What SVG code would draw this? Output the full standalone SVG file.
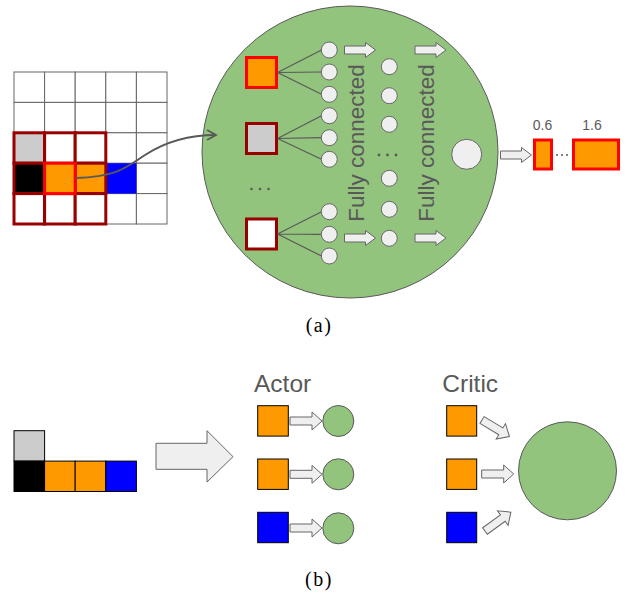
<svg xmlns="http://www.w3.org/2000/svg" width="629" height="595" viewBox="0 0 629 595">
<defs>
<style>
.g{fill:#fff;stroke:#666;stroke-width:1}
.dr{fill:none;stroke:#990000;stroke-width:3}
.red{stroke:#ff0000;stroke-width:3}
.or{fill:#ff9900}
.bl{fill:#0000ff}
.gy{fill:#cccccc}
.bk{fill:#000}
.cell{stroke:#000;stroke-width:1}
.n{fill:#efefef;stroke:#666;stroke-width:1}
.gc{fill:#93c47d;stroke:#595959;stroke-width:1}
.ar{fill:#efefef;stroke:#666;stroke-width:1}
.ln{stroke:#595959;stroke-width:1.2;fill:none}
.fc{font-family:'Liberation Sans',Arial,sans-serif;font-size:22.5px;fill:#595959}
.lab{font-family:'Liberation Sans',Arial,sans-serif;fill:#595959}
.cap{font-family:'Liberation Serif','Times New Roman',serif;font-size:20px;letter-spacing:1.5px;fill:#000}
</style>
<path id="sa" d="M0,-4 H21 V-7.5 L31,0 L21,7.5 V4 H0 Z"/>
<path id="sb" d="M0,-4 H22 V-9 L32,0 L22,9 V4 H0 Z"/>
<marker id="mh" markerWidth="12" markerHeight="12" refX="10" refY="6" orient="auto" markerUnits="userSpaceOnUse">
<path d="M1,1 L10,6 L1,11" fill="none" stroke="#595959" stroke-width="1.8"/>
</marker>
</defs>

<g id="grid">
<rect class="g" x="14" y="72" width="30.6" height="30.4"/>
<rect class="g" x="44.6" y="72" width="30.6" height="30.4"/>
<rect class="g" x="75.2" y="72" width="30.6" height="30.4"/>
<rect class="g" x="105.8" y="72" width="30.6" height="30.4"/>
<rect class="g" x="136.4" y="72" width="30.6" height="30.4"/>
<rect class="g" x="14" y="102.4" width="30.6" height="30.4"/>
<rect class="g" x="44.6" y="102.4" width="30.6" height="30.4"/>
<rect class="g" x="75.2" y="102.4" width="30.6" height="30.4"/>
<rect class="g" x="105.8" y="102.4" width="30.6" height="30.4"/>
<rect class="g" x="136.4" y="102.4" width="30.6" height="30.4"/>
<rect class="g" x="105.8" y="132.8" width="30.6" height="30.4"/>
<rect class="g" x="136.4" y="132.8" width="30.6" height="30.4"/>
<rect class="g" x="136.4" y="163.2" width="30.6" height="30.4"/>
<rect class="g" x="105.8" y="193.6" width="30.6" height="30.4"/>
<rect class="g" x="136.4" y="193.6" width="30.6" height="30.4"/>
<rect x="105.8" y="163.2" width="30.6" height="30.4" fill="#0000ff"/>
<rect class="dr" x="14" y="132.8" width="30.6" height="30.4" style="fill:#cccccc"/>
<rect class="dr" x="44.6" y="132.8" width="30.6" height="30.4" style="fill:#fff"/>
<rect class="dr" x="75.2" y="132.8" width="30.6" height="30.4" style="fill:#fff"/>
<rect class="dr" x="14" y="163.2" width="30.6" height="30.4" style="fill:#000"/>
<rect class="dr" x="75.2" y="163.2" width="30.6" height="30.4" style="fill:#ff9900"/>
<rect class="dr" x="14" y="193.6" width="30.6" height="30.4" style="fill:#fff"/>
<rect class="dr" x="44.6" y="193.6" width="30.6" height="30.4" style="fill:#fff"/>
<rect class="dr" x="75.2" y="193.6" width="30.6" height="30.4" style="fill:#fff"/>
<rect class="or red" x="44.6" y="163.2" width="30.6" height="30.4"/>
</g>

<g id="network">
<ellipse class="gc" cx="350" cy="152" rx="148" ry="146"/>
<rect class="or red" x="246.5" y="57.5" width="30" height="30"/>
<rect class="gy" x="246.5" y="123.5" width="30" height="30" stroke="#990000" stroke-width="3"/>
<rect x="246.5" y="219" width="30" height="30" fill="#fff" stroke="#990000" stroke-width="3"/>
<circle cx="251.5" cy="189" r="1.3" fill="#595959"/>
<circle cx="260" cy="189" r="1.3" fill="#595959"/>
<circle cx="268.5" cy="189" r="1.3" fill="#595959"/>
<path class="ln" d="M277.5,72.5 L321.5,50 M277.5,72.5 L321.5,72 M277.5,72.5 L321.5,94.3 M277.5,138.5 L321.5,115.7 M277.5,138.5 L321.5,137.7 M277.5,138.5 L321.5,159.3 M277.5,234 L321.5,211.7 M277.5,234 L321.5,234.3 M277.5,234 L321.5,256"/>
<circle class="n" cx="329.3" cy="50" r="8"/>
<circle class="n" cx="329.3" cy="72" r="8"/>
<circle class="n" cx="329.3" cy="94.3" r="8"/>
<circle class="n" cx="329.3" cy="115.7" r="8"/>
<circle class="n" cx="329.3" cy="137.7" r="8"/>
<circle class="n" cx="329.3" cy="159.3" r="8"/>
<circle class="n" cx="329.3" cy="211.7" r="8"/>
<circle class="n" cx="329.3" cy="234.3" r="8"/>
<circle class="n" cx="329.3" cy="256" r="8"/>
<circle class="n" cx="389.3" cy="66.7" r="8"/>
<circle class="n" cx="389.3" cy="95.7" r="8"/>
<circle class="n" cx="389.3" cy="124.3" r="8"/>
<circle class="n" cx="389.3" cy="178.3" r="8"/>
<circle class="n" cx="389.3" cy="209.3" r="8"/>
<circle class="n" cx="389.3" cy="238.3" r="8"/>
<circle cx="379" cy="155" r="1.4" fill="#595959"/>
<circle cx="387.5" cy="155" r="1.4" fill="#595959"/>
<circle cx="396" cy="155" r="1.4" fill="#595959"/>
<circle class="n" cx="466.7" cy="154.3" r="15"/>
<use href="#sa" class="ar" x="344.5" y="50"/>
<use href="#sa" class="ar" x="415" y="50"/>
<use href="#sa" class="ar" x="344.5" y="238"/>
<use href="#sa" class="ar" x="415" y="238"/>
<text class="fc" transform="translate(364,143) rotate(-90)" text-anchor="middle">Fully connected</text>
<text class="fc" transform="translate(434,143) rotate(-90)" text-anchor="middle">Fully connected</text>
</g>

<g id="output">
<use href="#sa" class="ar" x="500.5" y="155"/>
<rect class="or red" x="534.5" y="140" width="17" height="29"/>
<circle cx="557" cy="155" r="1" fill="#595959"/>
<circle cx="562" cy="155" r="1" fill="#595959"/>
<circle cx="567" cy="155" r="1" fill="#595959"/>
<rect class="or red" x="573.5" y="140" width="45" height="29"/>
<text class="lab" x="542.5" y="130" font-size="14" text-anchor="middle" fill="#666">0.6</text>
<text class="lab" x="592" y="130" font-size="14" text-anchor="middle" fill="#666">1.6</text>
</g>

<g id="connectors">
<path d="M76,178 C118,177 128,166 145,155 C165,142 188,135 216,135" fill="none" stroke="#595959" stroke-width="2" marker-end="url(#mh)"/>
</g>

<text class="cap" x="319" y="332" text-anchor="middle">(a)</text>

<g id="state">
<rect class="gy cell" x="14" y="430.7" width="30.6" height="30.4"/>
<rect class="bk cell" x="14" y="461.1" width="30.6" height="30.4"/>
<rect class="or cell" x="44.6" y="461.1" width="30.6" height="30.4"/>
<rect class="or cell" x="75.2" y="461.1" width="30.6" height="30.4"/>
<rect class="bl cell" x="105.8" y="461.1" width="30.6" height="30.4"/>
</g>

<g id="bigarrow">
<path class="ar" d="M156,443.3 H207 V430.7 L233,456.7 L207,482 V469.3 H156 Z"/>
</g>

<g id="actor">
<text class="lab" x="254" y="391.5" font-size="24.5">Actor</text>
<rect class="or cell" x="257.7" y="405.7" width="30.6" height="30.4"/>
<rect class="or cell" x="257.7" y="459" width="30.6" height="30.4"/>
<rect class="bl cell" x="257.7" y="512.3" width="30.6" height="30.4"/>
<use href="#sb" class="ar" x="290" y="421"/>
<use href="#sb" class="ar" x="290" y="474.3"/>
<use href="#sb" class="ar" x="290" y="528"/>
<circle class="gc" cx="338.3" cy="421" r="15.5"/>
<circle class="gc" cx="338.3" cy="474.3" r="15.5"/>
<circle class="gc" cx="338.3" cy="528.3" r="15.5"/>
</g>

<g id="critic">
<text class="lab" x="442.3" y="391.5" font-size="24.5">Critic</text>
<rect class="or cell" x="446.7" y="405.7" width="30" height="30.4"/>
<rect class="or cell" x="446.7" y="459" width="30" height="30.4"/>
<rect class="bl cell" x="446.7" y="512.3" width="30" height="30.4"/>
<use href="#sb" class="ar" transform="translate(482,420) rotate(31)"/>
<use href="#sb" class="ar" transform="translate(481.7,474)"/>
<use href="#sb" class="ar" transform="translate(485,531) rotate(-36)"/>
<circle class="gc" cx="567.5" cy="470.8" r="49"/>
</g>

<text class="cap" x="319" y="586" text-anchor="middle">(b)</text>
</svg>
